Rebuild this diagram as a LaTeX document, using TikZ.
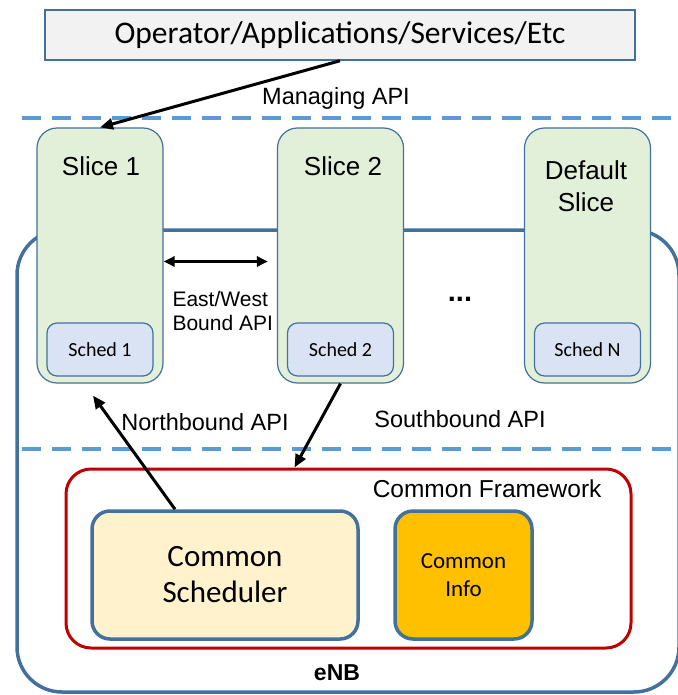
\documentclass[tikz,border=0pt]{standalone}
\usepackage{fontspec}
\setmainfont{Liberation Sans}
\newfontfamily\calfont{Carlito}
\usepackage{tikz}
\usetikzlibrary{positioning,arrows.meta}
\definecolor{edgeblue}{HTML}{41719C}
\definecolor{dashblue}{HTML}{5B9BD5}
\definecolor{slicegreen}{HTML}{E2F0D9}
\definecolor{schedblue}{HTML}{DAE3F3}
\definecolor{topgray}{HTML}{F2F2F2}
\definecolor{csyellow}{HTML}{FFF2CC}
\definecolor{ciorange}{HTML}{FFC000}
\definecolor{cfred}{HTML}{C00000}

\begin{document}
\begin{tikzpicture}[x=1pt,y=-1pt,
  slicebox/.style={draw=edgeblue,line width=1.2pt,fill=slicegreen,rounded corners=20pt,minimum width=126pt,minimum height=255pt},
  schedbox/.style={draw=edgeblue,line width=1.2pt,fill=schedblue,rounded corners=10pt,minimum width=106pt,minimum height=53pt,font=\calfont\fontsize{20}{24}\selectfont},
  slicetxt/.style={font=\fontsize{26}{32}\selectfont,align=center},
  api/.style={font=\fontsize{23.5}{26}\selectfont},
  arr/.style={line width=3pt,-{Triangle[length=13pt,width=11pt]}},
  ewarr/.style={line width=3pt,{Triangle[length=11pt,width=10pt]}-{Triangle[length=11pt,width=10pt]}},
  sep/.style={dashblue,line width=4pt,dash pattern=on 19pt off 11pt}]
\useasboundingbox (0,0) rectangle (677,695);
\draw[edgeblue,line width=3.5pt,rounded corners=45pt] (17,230) rectangle (679,692);
\draw[sep] (22,118) -- (677,118);
\draw[sep] (22,449) -- (677,449);
\node[draw=edgeblue,line width=1.5pt,fill=topgray,minimum width=590pt,minimum height=50pt,font=\calfont\fontsize{31.5}{36}\selectfont] (op) at (340,35) {Operator/Applications/Services/Etc};
\node[api] (mapi) at (336,98) {Managing API};
\node[slicebox] (slice1) at (100,255.5) {};
\node[slicebox] (slice2) at (340.5,255.5) {};
\node[slicebox] (slicedef) at (587.5,255.5) {};
\node[slicetxt] (s1txt) at (101,166) {Slice 1};
\node[slicetxt] (s2txt) at (343,166) {Slice 2};
\node[slicetxt] (sdtxt) at (586,186) {Default\\Slice};
\node[schedbox,above=7pt of slice1.south] (sched1) {Sched 1};
\node[schedbox,above=7pt of slice2.south] (sched2) {Sched 2};
\node[schedbox,above=7pt of slicedef.south] (schedn) {Sched N};
\node[font=\fontsize{21}{24}\selectfont,align=left,anchor=west] (ewapi) at (169,311) {East/West\\Bound API};
\node[font=\bfseries\fontsize{29}{30}\selectfont] (dots) at (460,299) {...};
\node[api] (napi) at (205,422) {Northbound API};
\node[api] (sapi) at (460,419) {Southbound API};
\node[draw=cfred,line width=3pt,rounded corners=25pt,minimum width=565pt,minimum height=179pt] (cf) at (348.5,558.5) {};
\node[font=\fontsize{24.5}{26}\selectfont,anchor=east] (cftxt) at (605,489) {Common Framework};
\node[draw=edgeblue,line width=3.5pt,fill=csyellow,rounded corners=18pt,minimum width=266pt,minimum height=128pt,align=center,font=\calfont\fontsize{31}{36}\selectfont] (cs) at (225,575) {Common\\Scheduler};
\node[draw=edgeblue,line width=3.5pt,fill=ciorange,rounded corners=18pt,minimum width=137pt,minimum height=128pt,align=center,font=\calfont\fontsize{23}{28}\selectfont] (ci) at (463.5,575) {Common\\Info};
\node[font=\bfseries\fontsize{23}{26}\selectfont] (enb) at (337,673) {eNB};
\draw[arr] (op.south) -- (slice1.north);
\draw[ewarr] ([yshift=-6pt]slice1.east) -- ([xshift=-9pt,yshift=-6pt]slice2.west);
\draw[arr] ([xshift=-50pt]cs.north) -- ([xshift=-7pt,yshift=-12pt]slice1.south);
\draw[arr] (slice2.south) -- ([xshift=-54pt]cf.north);
\end{tikzpicture}
\end{document}
